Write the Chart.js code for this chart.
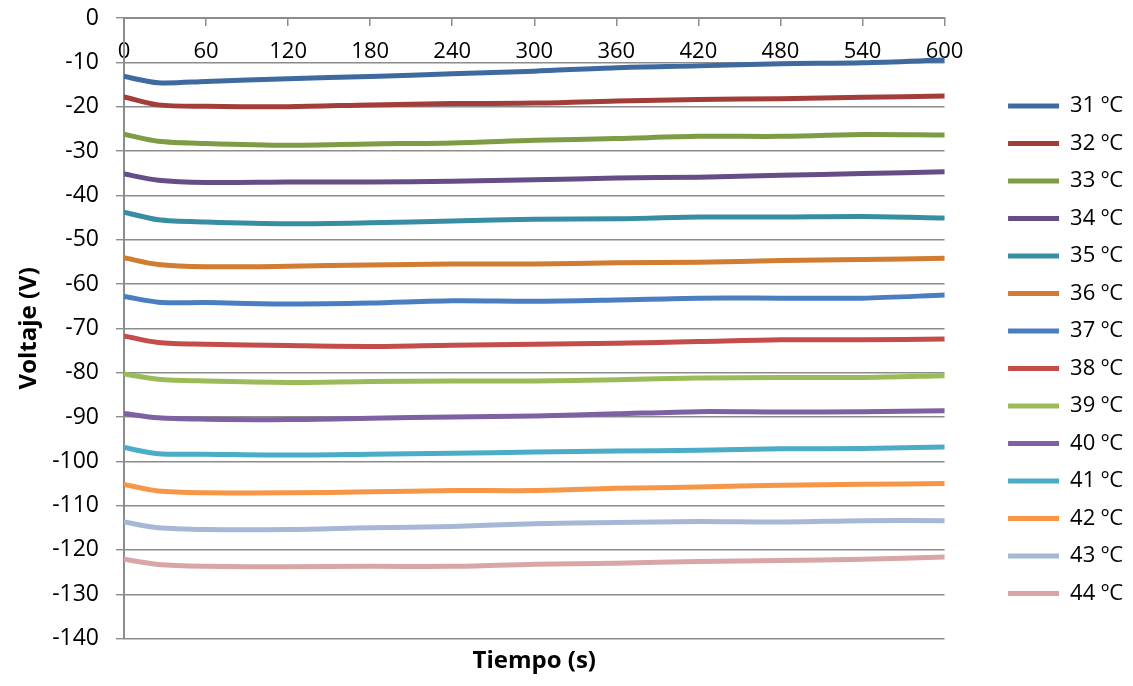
<!DOCTYPE html>
<html>
<head>
<meta charset="utf-8">
<script src="https://cdn.jsdelivr.net/npm/chart.js@4/dist/chart.umd.min.js"></script>
<style>
  html, body { margin: 0; padding: 0; background: #fff; }
  #wrap { width: 1133px; height: 686px; position: relative; }
</style>
</head>
<body>
<div id="wrap"><canvas id="chart"></canvas></div>
<script>
// time (s)
const tiempos = [0, 25, 60, 120, 180, 240, 300, 360, 420, 480, 540, 600]

const seriesNames = ['31 ºC', '32 ºC', '33 ºC', '34 ºC', '35 ºC', '36 ºC', '37 ºC',
  '38 ºC', '39 ºC', '40 ºC', '41 ºC', '42 ºC', '43 ºC', '44 ºC']

const v31 = [-13.2, -14.6, -14.3, -13.7, -13.2, -12.6, -12.0, -11.2, -10.8, -10.3, -10.1, -9.5]
const v32 = [-17.8, -19.6, -19.9, -20.0, -19.6, -19.3, -19.2, -18.7, -18.4, -18.2, -17.9, -17.6]
const v33 = [-26.2, -27.8, -28.3, -28.7, -28.4, -28.2, -27.6, -27.2, -26.7, -26.7, -26.3, -26.4]
const v34 = [-35.2, -36.6, -37.1, -37.0, -37.0, -36.8, -36.5, -36.1, -35.9, -35.5, -35.1, -34.7]
const v35 = [-43.8, -45.5, -46.0, -46.4, -46.2, -45.8, -45.4, -45.3, -44.9, -44.9, -44.8, -45.1]
const v36 = [-54.1, -55.6, -56.1, -56.0, -55.7, -55.5, -55.5, -55.2, -55.1, -54.7, -54.5, -54.2]
const v37 = [-62.8, -64.1, -64.2, -64.5, -64.3, -63.8, -63.9, -63.6, -63.2, -63.2, -63.2, -62.5]
const v38 = [-71.7, -73.2, -73.6, -73.9, -74.1, -73.8, -73.6, -73.4, -73.0, -72.6, -72.6, -72.4]
const v39 = [-80.3, -81.5, -81.9, -82.2, -82.0, -81.9, -81.9, -81.6, -81.2, -81.1, -81.1, -80.7]
const v40 = [-89.2, -90.2, -90.5, -90.6, -90.3, -90.0, -89.8, -89.3, -88.8, -88.9, -88.8, -88.6]
const v41 = [-96.9, -98.3, -98.4, -98.6, -98.4, -98.2, -97.9, -97.7, -97.5, -97.2, -97.1, -96.8]
const v42 = [-105.2, -106.7, -107.1, -107.1, -106.9, -106.6, -106.6, -106.1, -105.8, -105.4, -105.2, -105.0]
const v43 = [-113.7, -115.0, -115.4, -115.4, -115.0, -114.7, -114.1, -113.8, -113.6, -113.7, -113.4, -113.4]
const v44 = [-122.1, -123.3, -123.7, -123.8, -123.7, -123.7, -123.2, -123.0, -122.6, -122.4, -122.1, -121.6]

const seriesValues = [v31, v32, v33, v34, v35, v36, v37, v38, v39, v40, v41, v42, v43, v44]

const colors = ['#3e6a9f', '#a23d3a', '#7e9b46', '#654e86', '#378da2', '#d17c31', '#4a7ec0',
  '#c24d4a', '#9bbb59', '#7e61a3', '#4aacc6', '#f79646', '#a6b8d6', '#d8a6a6']

const font = 'Open Sans'
const gridGray = '#8c8c8c'

new Chart(document.getElementById('chart'), {
  type: 'line',
  data: {
    labels: tiempos,
    datasets: seriesNames.map((name, i) => ({
      label: name,
      data: seriesValues[i],
      borderColor: colors[i],
      backgroundColor: colors[i],
      borderWidth: 5,
      borderCapStyle: 'round',
      borderJoinStyle: 'round',
      pointRadius: 0,
      tension: 0.3,
      xAxisID: 'x',
      yAxisID: 'y',
    }))
  },
  options: {
    responsive: true,
    maintainAspectRatio: false,
    animation: false,
    layout: { padding: { top: 18, left: 4, right: 0, bottom: 4.6 } },
    plugins: {
      tooltip: { enabled: false },
      legend: {
        position: 'right',
        labels: {
          usePointStyle: true,
          pointStyle: 'line',
          pointStyleWidth: 51,
          padding: 15.5,
          color: '#000',
          font: { size: 22, family: font },
        }
      }
    },
    scales: {
      x: {
        type: 'linear',
        position: { y: 0 },
        min: 0,
        max: 600,
        ticks: { stepSize: 60, padding: 13.8, color: '#000', font: { size: 22, family: font }, maxRotation: 0 },
        grid: { drawOnChartArea: false, drawTicks: true, tickLength: 7, color: gridGray, lineWidth: 1.5 },
        border: { color: gridGray, width: 2 },
      },
      y: {
        type: 'linear',
        position: 'left',
        min: -140,
        max: 0,
        ticks: { stepSize: 10, padding: 17, color: '#000', font: { size: 23, family: font } },
        grid: { color: gridGray, lineWidth: 1.4, tickLength: 8 },
        border: { color: gridGray, width: 2 },
        title: {
          display: true,
          text: 'Voltaje (V)',
          color: '#000',
          font: { size: 24, weight: 'bold', family: font },
          padding: { top: 11, bottom: 0 },
        },
        afterFit: s => {
          s.width = 120
          s.paddingTop = 0
          s.paddingBottom = 0
        },
      },
      xb: {
        type: 'linear',
        position: 'bottom',
        min: 0,
        max: 600,
        ticks: { display: false },
        grid: { display: false, drawTicks: false },
        border: { display: false },
        title: {
          display: true,
          text: 'Tiempo (s)',
          color: '#000',
          font: { size: 24, weight: 'bold', family: font },
          padding: { top: 8, bottom: 6 },
        },
      },
      yr: {
        type: 'linear',
        position: 'right',
        ticks: { display: false },
        grid: { display: false, drawTicks: false },
        border: { display: false },
        afterFit: s => { s.width = 48 },
      }
    }
  }
})
</script>
</body>
</html>
